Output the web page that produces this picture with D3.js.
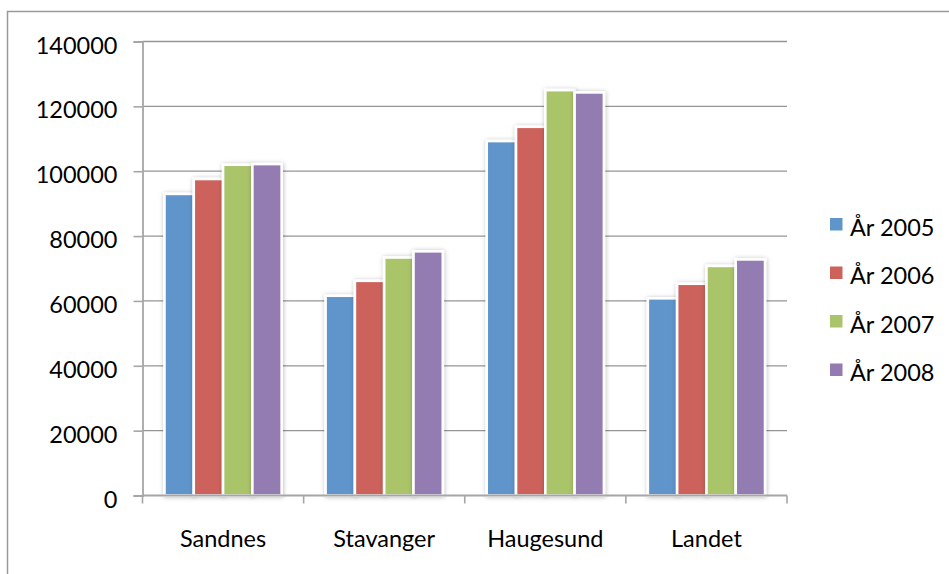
<!DOCTYPE html>
<html>
<head>
<meta charset="utf-8">
<script src="https://cdn.jsdelivr.net/npm/d3@7/dist/d3.min.js"></script>
<style>
  html, body { margin: 0; padding: 0; background: #fff; }
  svg text { font-family: Lato, "Open Sans", "Liberation Sans", sans-serif; fill: #000; }
</style>
</head>
<body>
<svg id="chart" width="949" height="574"></svg>
<script>
// Categories and yearly series
const categories = ["Sandnes", "Stavanger", "Haugesund", "Landet"];
const seriesNames = ["År 2005", "År 2006", "År 2007", "År 2008"];
const values2005 = [93000, 61600, 109300, 60800];
const values2006 = [97600, 66200, 113700, 65300];
const values2007 = [102000, 73400, 125000, 70800];
const values2008 = [102200, 75300, 124300, 72800];
const seriesColors = ["#5f95cb", "#cd625b", "#aac46b", "#937bb2"];
const yTicks = [0, 20000, 40000, 60000, 80000, 100000, 120000, 140000];

const seriesValues = [values2005, values2006, values2007, values2008];

const svg = d3.select("#chart");
const plot = { left: 142.5, right: 787, top: 41.5, bottom: 495.5 };

// drop shadow for bars
const defs = svg.append("defs");
const f = defs.append("filter").attr("id", "barShadow")
  .attr("x", "-30%").attr("y", "-10%").attr("width", "160%").attr("height", "120%");
f.append("feDropShadow").attr("dx", 0.5).attr("dy", 0.5)
  .attr("stdDeviation", 2).attr("flood-color", "#000").attr("flood-opacity", 0.28);

// outer frame
svg.append("rect")
  .attr("x", 7.5).attr("y", 11.5).attr("width", 980).attr("height", 620)
  .attr("fill", "#fff").attr("stroke", "#9a9a9a").attr("stroke-width", 1.5);

const y = d3.scaleLinear().domain([0, 140000]).range([plot.bottom, plot.top]);
const x0 = d3.scaleBand().domain(categories).range([plot.left, plot.right])
  .paddingInner(0).paddingOuter(0);
const x1 = d3.scaleBand().domain(seriesNames).range([0, x0.bandwidth()])
  .paddingInner(0).paddingOuter(0.75);

// gridlines
svg.append("g")
  .selectAll("line").data(yTicks.filter(d => d > 0)).join("line")
  .attr("x1", plot.left).attr("x2", plot.right)
  .attr("y1", d => y(d)).attr("y2", d => y(d))
  .attr("stroke", "#959595").attr("stroke-width", 1.3);

// bars
const groups = svg.append("g").selectAll("g").data(categories).join("g")
  .attr("transform", d => `translate(${x0(d)},0)`);
groups.selectAll("rect")
  .data((c, ci) => seriesNames.map((s, si) => ({ s, si, v: seriesValues[si][ci] })))
  .join("rect")
  .attr("x", d => x1(d.s))
  .attr("width", x1.bandwidth())
  .attr("y", d => y(d.v))
  .attr("height", d => y(0) - y(d.v))
  .attr("fill", d => seriesColors[d.si])
  .attr("stroke", "#fff").attr("stroke-width", 2.6)
  .attr("filter", "url(#barShadow)");

// y axis
const yAxis = svg.append("g").attr("transform", `translate(${plot.left},0)`)
  .call(d3.axisLeft(y).tickValues(yTicks).tickFormat(d3.format("d")).tickSize(9).tickPadding(16));
yAxis.select(".domain").attr("stroke", "#a6a6a6").attr("stroke-width", 1.8);
yAxis.selectAll(".tick line").attr("stroke", "#a6a6a6").attr("stroke-width", 1.6);
yAxis.selectAll(".tick text")
  .attr("font-size", 23.5).attr("dy", null).attr("y", 0)
  .attr("dominant-baseline", "central").attr("transform", "translate(0,2.5)")
  .style("font-family", "Lato, 'Open Sans', sans-serif");

// x axis with ticks at category boundaries
const bounds = categories.map(c => x0(c)).concat([plot.right]);
const xAxis = svg.append("g").attr("transform", `translate(0,${plot.bottom})`);
xAxis.append("line").attr("x1", plot.left).attr("x2", plot.right)
  .attr("stroke", "#a6a6a6").attr("stroke-width", 2);
xAxis.selectAll("line.tk").data(bounds).join("line").attr("class", "tk")
  .attr("x1", d => d).attr("x2", d => d).attr("y1", 0).attr("y2", 8)
  .attr("stroke", "#a6a6a6").attr("stroke-width", 1.6);
xAxis.selectAll("text").data(categories).join("text")
  .attr("x", d => x0(d) + x0.bandwidth() / 2)
  .attr("y", 51)
  .attr("text-anchor", "middle")
  .attr("font-size", 23.5)
  .text(d => d);

// legend
const legend = svg.append("g").attr("transform", "translate(830,218)");
const items = legend.selectAll("g").data(seriesNames).join("g")
  .attr("transform", (d, i) => `translate(0,${i * 48.5})`);
items.append("rect").attr("width", 12.5).attr("height", 12.5)
  .attr("fill", (d, i) => seriesColors[i]);
items.append("text").attr("x", 20).attr("y", 6.5)
  .attr("dominant-baseline", "central").attr("dy", 2)
  .attr("font-size", 23.5).text(d => d);
</script>
</body>
</html>
